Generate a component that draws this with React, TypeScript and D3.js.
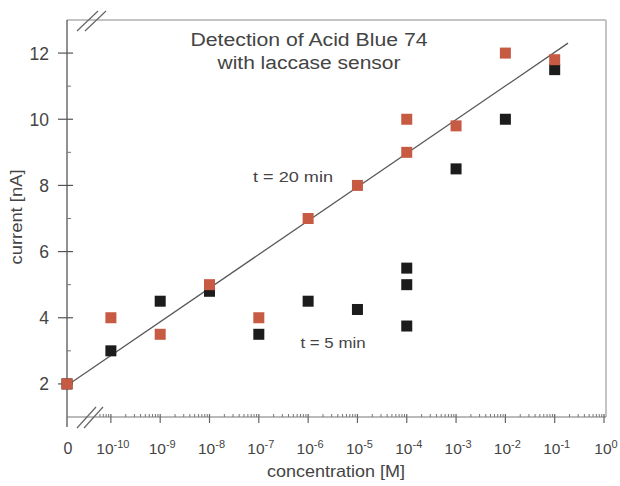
import React from 'react';
import * as d3 from 'd3';

// position used for the "0" concentration on the broken log axis
const ZERO_POS = -10.89;

const decades = [-10, -9, -8, -7, -6, -5, -4, -3, -2, -1, 0];
const yTicks = [2, 4, 6, 8, 10, 12];
const yMinor = [3, 5, 7, 9, 11];

// t = 20 min (red)
const conc20 = [0, 1e-10, 1e-9, 1e-8, 1e-7, 1e-6, 1e-5, 1e-4, 1e-4, 1e-3, 1e-2, 1e-1];
const cur20 = [2.0, 4.0, 3.5, 5.0, 4.0, 7.0, 8.0, 9.0, 10.0, 9.8, 12.0, 11.8];

// t = 5 min (black)
const conc5 = [0, 1e-10, 1e-9, 1e-8, 1e-7, 1e-6, 1e-5, 1e-4, 1e-4, 1e-4, 1e-3, 1e-2, 1e-1];
const cur5 = [2.0, 3.0, 4.5, 4.8, 3.5, 4.5, 4.25, 3.75, 5.0, 5.5, 8.5, 10.0, 11.5];

// linear fit (in log position) for t = 20 min
const fitPos = [ZERO_POS, -0.73];
const fitCur = [1.95, 12.3];

const W = 620;
const H = 486;
const left = 67;
const right = 604;
const top = 20;
const bottom = 417;

const pos = (c: number) => (c === 0 ? ZERO_POS : Math.log10(c));

export default function App() {
  const x = d3.scaleLinear().domain([ZERO_POS, 0]).range([left, right]);
  const y = d3.scaleLinear().domain([1, 13]).range([bottom, top]);

  const minor: number[] = [];
  for (let d = -11; d < 0; d++) {
    for (let k = 2; k <= 9; k++) {
      const p = d + Math.log10(k);
      if (p > -10.3) minor.push(p);
    }
  }

  const fitLine = d3.line<number>()
    .x(p => x(p))
    .y((_, i) => y(fitCur[i]))(fitPos);

  const font = '"Liberation Sans", Arial, sans-serif';
  const sq = 11;
  const txt = '#444';

  return (
    <svg width={W} height={H} style={{ position: 'absolute', left: 0, top: 0 }} fontFamily={font}>
      <rect width={W} height={H} fill="#fff" />
      {/* frame */}
      <line x1={left} x2={right + 2} y1={top} y2={top} stroke="#c4c4c4" strokeWidth={2} />
      <line x1={right + 2} x2={right + 2} y1={top} y2={bottom} stroke="#c4c4c4" strokeWidth={2} />
      <line x1={left} x2={left} y1={top} y2={bottom + 10} stroke="#555" strokeWidth={1.3} />
      <line x1={left} x2={right + 2} y1={bottom} y2={bottom} stroke="#777" strokeWidth={1.2} />

      {/* axis breaks */}
      <g stroke="#666" strokeWidth={1.2}>
        <line x1={77} y1={31} x2={98} y2={11} />
        <line x1={85} y1={31} x2={106} y2={11} />
        <line x1={77} y1={428} x2={96} y2={407} />
        <line x1={84} y1={428} x2={103} y2={407} />
      </g>

      {/* y ticks */}
      {yTicks.map(v => (
        <g key={v}>
          <line x1={left - 9} x2={left + 6} y1={y(v)} y2={y(v)} stroke="#555" strokeWidth={1.2} />
          <text x={49} y={y(v) + 6.5} textAnchor="end" fontSize={17.5} fill={txt}>{v}</text>
        </g>
      ))}
      {yMinor.map(v => (
        <line key={v} x1={left} x2={left + 4} y1={y(v)} y2={y(v)} stroke="#777" strokeWidth={1} />
      ))}

      {/* x ticks */}
      {minor.map((p, i) => (
        <line key={i} x1={x(p)} x2={x(p)} y1={bottom} y2={bottom - 3} stroke="#777" strokeWidth={1} />
      ))}
      {decades.map(d => (
        <g key={d}>
          <line x1={x(d)} x2={x(d)} y1={bottom - 3} y2={bottom + 6} stroke="#666" strokeWidth={1.2} />
          <text x={x(d) + 2} y={454} textAnchor="middle" fontSize={15.5} fill={txt}>
            10<tspan dy={-6} fontSize={11}>{d}</tspan>
          </text>
        </g>
      ))}
      <text x={x(ZERO_POS) + 1} y={454} textAnchor="middle" fontSize={16} fill={txt}>0</text>

      {/* fit line */}
      <path d={fitLine || ''} fill="none" stroke="#5a5a5a" strokeWidth={1.3} />

      {/* points */}
      {conc5.map((c, i) => (
        <rect key={'b' + i} x={x(pos(c)) - sq / 2} y={y(cur5[i]) - sq / 2} width={sq} height={sq} fill="#1c1c1c" />
      ))}
      {conc20.map((c, i) => (
        <rect key={'r' + i} x={x(pos(c)) - sq / 2} y={y(cur20[i]) - sq / 2} width={sq} height={sq} fill="#c65a42" />
      ))}

      {/* texts */}
      <text x={309} y={46} textAnchor="middle" fontSize={18} fill={txt} textLength={237} lengthAdjust="spacingAndGlyphs">Detection of Acid Blue 74</text>
      <text x={309} y={69} textAnchor="middle" fontSize={18} fill={txt} textLength={183} lengthAdjust="spacingAndGlyphs">with laccase sensor</text>
      <text x={293} y={182} textAnchor="middle" fontSize={15} fill={txt} textLength={80} lengthAdjust="spacingAndGlyphs">t = 20 min</text>
      <text x={333} y={348} textAnchor="middle" fontSize={15} fill={txt} textLength={65} lengthAdjust="spacingAndGlyphs">t = 5 min</text>
      <text x={336} y={477} textAnchor="middle" fontSize={17} fill={txt} textLength={138} lengthAdjust="spacingAndGlyphs">concentration [M]</text>
      <text transform={`translate(22,217) rotate(-90)`} textAnchor="middle" fontSize={16} fill={txt} textLength={95} lengthAdjust="spacingAndGlyphs">current [nA]</text>
    </svg>
  );
}
